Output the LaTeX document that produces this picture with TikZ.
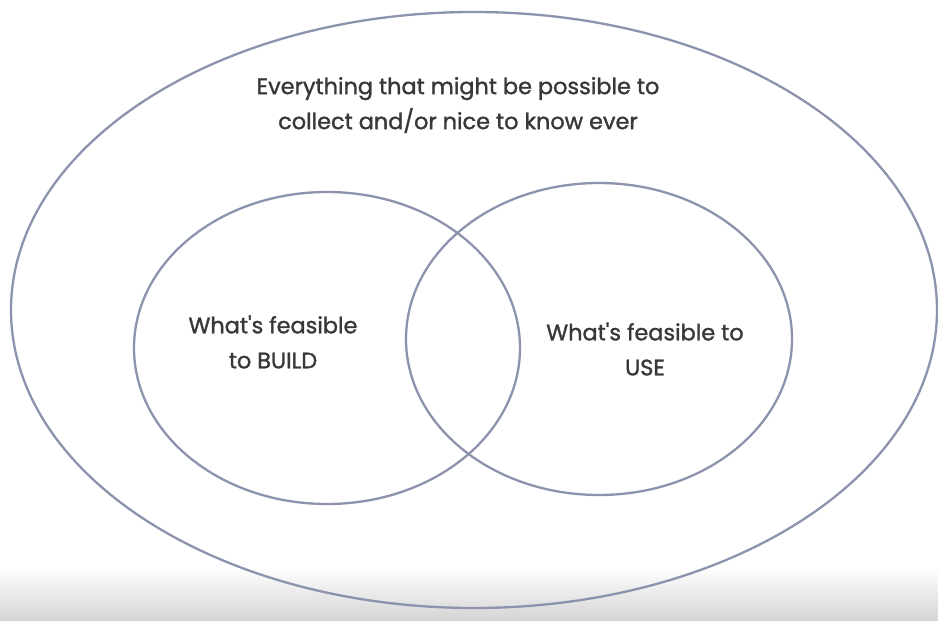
\documentclass[tikz,border=0pt]{standalone}
\usepackage{fontspec}
\setmainfont{Poppins}
\newfontfamily\vennfont{Poppins}[FakeBold=1.3]
\definecolor{ringgray}{RGB}{140,147,172}
\begin{document}
\begin{tikzpicture}[line join = round, line cap = round,x=1pt,y=-1pt]
			\tikzset{ring/.style={draw=ringgray,line width=2.3pt},
				label/.style={text=black!78,font=\vennfont\fontsize{22.4}{35}\selectfont,align=center,inner sep=0pt}}
			\useasboundingbox (0,0) rectangle (938,621);
			\shade[top color=white,bottom color=black!17,draw=none](0,568) rectangle (938,621);
			\def\rx{193}
			\def\ry{156}
			\draw[ring](474,310) ellipse [x radius=463,y radius=298];
			\draw[ring](327,348) ellipse [x radius=\rx,y radius=\ry];
			\draw[ring](599,339) ellipse [x radius=\rx,y radius=\ry];
			\node[label] (all) at (458,105) {Everything that might be possible to\\collect and/or nice to know ever};
			\node[label] (build) at (273,342) {What's feasible\\to BUILD};
			\node[label] (use) at (645,349) {What's feasible to\\USE};
		\end{tikzpicture}
\end{document}
